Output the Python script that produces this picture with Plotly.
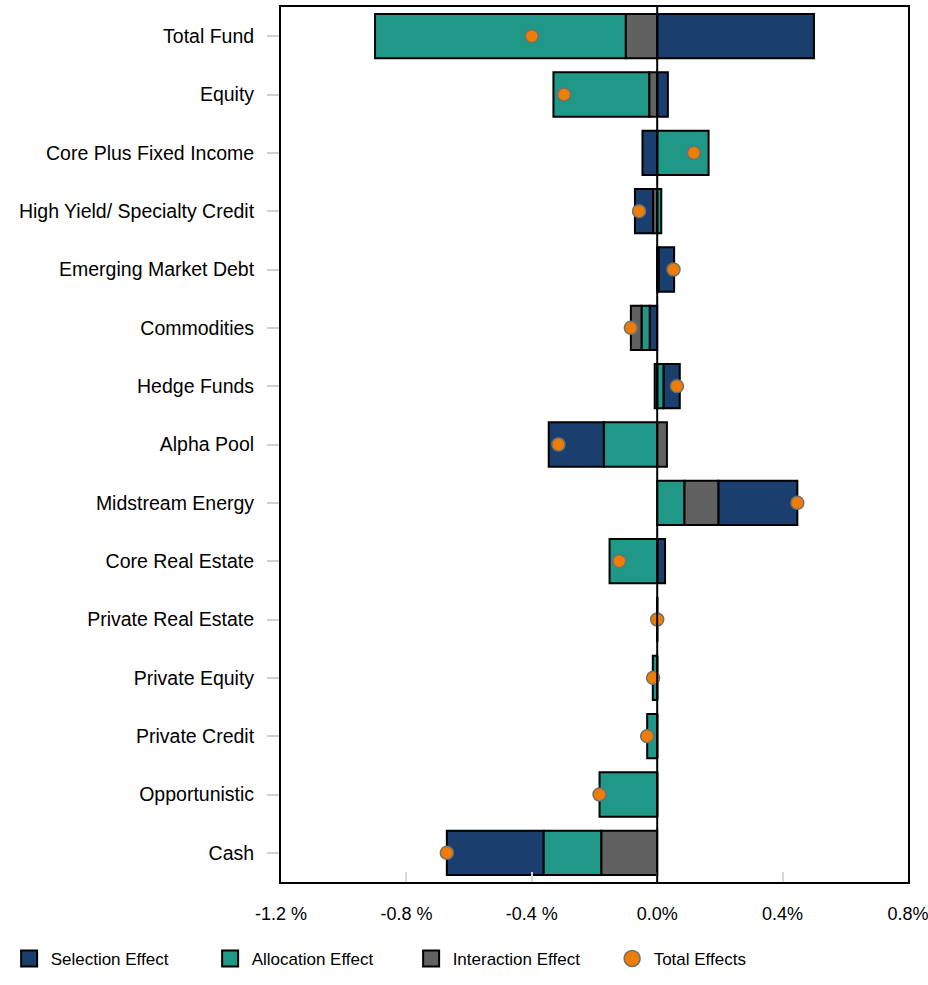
import plotly.graph_objects as go

categories = ["Total Fund", "Equity", "Core Plus Fixed Income", "High Yield/ Specialty Credit",
              "Emerging Market Debt", "Commodities", "Hedge Funds", "Alpha Pool",
              "Midstream Energy", "Core Real Estate", "Private Real Estate", "Private Equity",
              "Private Credit", "Opportunistic", "Cash"]
selection = [0.50, 0.034, -0.047, -0.058, 0.050, -0.024, 0.052, -0.176, 0.252, 0.025, 0.0, 0.0, 0.0, 0.0, -0.309]
allocation = [-0.80, -0.306, 0.164, 0.013, 0.004, -0.026, 0.020, -0.170, 0.087, -0.152, 0.0, -0.014, -0.032, -0.184, -0.184]
interaction = [-0.10, -0.025, 0.0, -0.013, 0.0, -0.034, -0.008, 0.031, 0.108, 0.0, 0.0, 0.0, 0.0, 0.0, -0.178]
total = [-0.40, -0.297, 0.117, -0.058, 0.052, -0.084, 0.063, -0.315, 0.447, -0.121, 0.0, -0.013, -0.032, -0.184, -0.671]

tick_vals = [-1.2, -0.8, -0.4, 0.0, 0.4, 0.8]
tick_text = ["-1.2 %", "-0.8 %", "-0.4 %", "0.0%", "0.4%", "0.8%"]

series = [("Selection Effect", selection, "#1A3E6E"),
          ("Allocation Effect", allocation, "#1F9888"),
          ("Interaction Effect", interaction, "#616161")]

# stacking: within each sign, smaller magnitudes sit closest to zero
bases = {name: [0.0] * len(categories) for name, _, _ in series}
for i in range(len(categories)):
    vals = [(name, vals[i]) for name, vals, _ in series]
    for sign in (1, -1):
        part = sorted([v for v in vals if v[1] * sign > 0], key=lambda v: abs(v[1]))
        acc = 0.0
        for name, v in part:
            bases[name][i] = acc
            acc += v

FONT = "Liberation Sans, Arial, sans-serif"

fig = go.Figure()
for name, vals, color in series:
    fig.add_trace(go.Bar(
        y=categories, x=vals, base=bases[name], orientation="h", name=name,
        width=0.76, marker=dict(color=color, line=dict(color="black", width=2)),
        showlegend=False))

fig.add_trace(go.Scatter(
    y=categories, x=total, mode="markers", name="Total Effects", showlegend=False,
    marker=dict(color="#EE7D05", size=13, line=dict(color="#707070", width=1.5))))

# legend entries
for name, _, color in series:
    fig.add_trace(go.Scatter(x=[None], y=[None], mode="markers", name=name,
                             marker=dict(symbol="square", size=16, color=color,
                                         line=dict(color="black", width=2))))
fig.add_trace(go.Scatter(x=[None], y=[None], mode="markers", name="Total Effects",
                         marker=dict(symbol="circle", size=16, color="#EE7D05",
                                     line=dict(color="#707070", width=1.5))))

fig.add_shape(type="line", xref="x", yref="paper", x0=0, x1=0, y0=0, y1=1,
              line=dict(color="black", width=2), layer="above")

fig.update_layout(
    width=928, height=985, barmode="overlay",
    margin=dict(l=281, r=20, t=7, b=103),
    plot_bgcolor="white", paper_bgcolor="white",
    font=dict(family=FONT, color="black"),
    legend=dict(orientation="h", x=-0.436, y=-0.088, xanchor="left", yanchor="middle",
                font=dict(family=FONT, size=17), entrywidth=153, itemwidth=33,
                itemsizing="trace", traceorder="normal"),
    xaxis=dict(range=[-1.2, 0.8], tickvals=tick_vals, ticktext=tick_text,
               showgrid=False, zeroline=False, showline=True, linecolor="black",
               linewidth=2, mirror=True, ticks="inside", ticklen=10, tickwidth=2,
               tickcolor="#d9d9d9", ticklabelstandoff=14, ticklabeloverflow="allow",
               automargin=False,
               tickfont=dict(family=FONT, size=18, color="black")),
    yaxis=dict(categoryorder="array", categoryarray=categories,
               range=[len(categories) - 0.5, -0.5],
               showgrid=False, zeroline=False, showline=True, linecolor="black",
               linewidth=2, mirror=True, ticks="outside", ticklen=12, tickwidth=2,
               tickcolor="#d0d0d0", ticklabelstandoff=9, automargin=False,
               tickfont=dict(family=FONT, size=19.5, color="black")),
)

fig.write_html("out.html")
